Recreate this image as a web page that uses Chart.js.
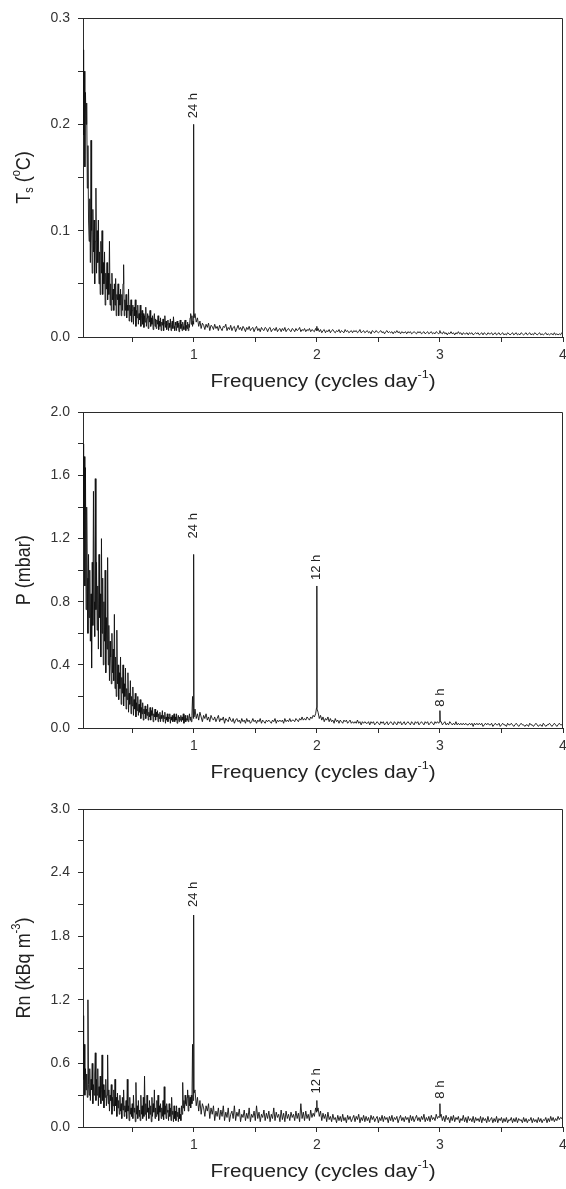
<!DOCTYPE html>
<html>
<head>
<meta charset="utf-8">
<script src="https://cdn.jsdelivr.net/npm/chart.js"></script>
<style>
  body { margin: 0; background: #fff; }
  canvas { display: block; }
</style>
</head>
<body>
<canvas id="c0" width="566" height="396"></canvas>
<canvas id="c1" width="566" height="396"></canvas>
<canvas id="c2" width="566" height="397"></canvas>
<script>
// frequency (cycles/day), shared by the three spectra
var freq = [
  0.100,0.105,0.110,0.115,0.120,0.125,0.130,0.135,0.140,0.145,
  0.150,0.155,0.160,0.165,0.170,0.175,0.180,0.185,0.190,0.195,
  0.200,0.205,0.210,0.215,0.220,0.225,0.230,0.235,0.240,0.245,
  0.250,0.255,0.260,0.265,0.270,0.275,0.280,0.285,0.290,0.295,
  0.300,0.305,0.310,0.315,0.320,0.325,0.330,0.335,0.340,0.345,
  0.350,0.355,0.360,0.365,0.370,0.375,0.380,0.385,0.390,0.395,
  0.400,0.405,0.410,0.415,0.420,0.425,0.430,0.435,0.440,0.445,
  0.450,0.455,0.460,0.465,0.470,0.475,0.480,0.485,0.490,0.495,
  0.500,0.505,0.510,0.515,0.520,0.525,0.530,0.535,0.540,0.545,
  0.550,0.555,0.560,0.565,0.570,0.575,0.580,0.585,0.590,0.595,
  0.600,0.605,0.610,0.615,0.620,0.625,0.630,0.635,0.640,0.645,
  0.650,0.655,0.660,0.665,0.670,0.675,0.680,0.685,0.690,0.695,
  0.700,0.705,0.710,0.715,0.720,0.725,0.730,0.735,0.740,0.745,
  0.750,0.755,0.760,0.765,0.770,0.775,0.780,0.785,0.790,0.795,
  0.800,0.805,0.810,0.815,0.820,0.825,0.830,0.835,0.840,0.845,
  0.850,0.855,0.860,0.865,0.870,0.875,0.880,0.885,0.890,0.895,
  0.900,0.905,0.910,0.915,0.920,0.925,0.930,0.935,0.940,0.945,
  0.950,0.955,0.960,0.965,0.970,0.975,0.980,0.985,0.990,0.995,
  0.998,1.000,1.002,
  1.01,1.02,1.03,1.04,1.05,1.06,1.07,1.08,1.09,1.10,
  1.11,1.12,1.13,1.14,1.15,1.16,1.17,1.18,1.19,1.20,
  1.21,1.22,1.23,1.24,1.25,1.26,1.27,1.28,1.29,1.30,
  1.31,1.32,1.33,1.34,1.35,1.36,1.37,1.38,1.39,1.40,
  1.41,1.42,1.43,1.44,1.45,1.46,1.47,1.48,1.49,1.50,
  1.51,1.52,1.53,1.54,1.55,1.56,1.57,1.58,1.59,1.60,
  1.61,1.62,1.63,1.64,1.65,1.66,1.67,1.68,1.69,1.70,
  1.71,1.72,1.73,1.74,1.75,1.76,1.77,1.78,1.79,1.80,
  1.81,1.82,1.83,1.84,1.85,1.86,1.87,1.88,1.89,1.90,
  1.91,1.92,1.93,1.94,1.95,1.96,1.97,1.98,1.99,
  1.998,2.000,2.002,
  2.01,2.02,2.03,2.04,2.05,2.06,2.07,2.08,2.09,2.10,
  2.11,2.12,2.13,2.14,2.15,2.16,2.17,2.18,2.19,2.20,
  2.21,2.22,2.23,2.24,2.25,2.26,2.27,2.28,2.29,2.30,
  2.31,2.32,2.33,2.34,2.35,2.36,2.37,2.38,2.39,2.40,
  2.41,2.42,2.43,2.44,2.45,2.46,2.47,2.48,2.49,2.50,
  2.51,2.52,2.53,2.54,2.55,2.56,2.57,2.58,2.59,2.60,
  2.61,2.62,2.63,2.64,2.65,2.66,2.67,2.68,2.69,2.70,
  2.71,2.72,2.73,2.74,2.75,2.76,2.77,2.78,2.79,2.80,
  2.81,2.82,2.83,2.84,2.85,2.86,2.87,2.88,2.89,2.90,
  2.91,2.92,2.93,2.94,2.95,2.96,2.97,2.98,2.99,
  2.998,3.000,3.002,
  3.01,3.02,3.03,3.04,3.05,3.06,3.07,3.08,3.09,3.10,
  3.11,3.12,3.13,3.14,3.15,3.16,3.17,3.18,3.19,3.20,
  3.21,3.22,3.23,3.24,3.25,3.26,3.27,3.28,3.29,3.30,
  3.31,3.32,3.33,3.34,3.35,3.36,3.37,3.38,3.39,3.40,
  3.41,3.42,3.43,3.44,3.45,3.46,3.47,3.48,3.49,3.50,
  3.51,3.52,3.53,3.54,3.55,3.56,3.57,3.58,3.59,3.60,
  3.61,3.62,3.63,3.64,3.65,3.66,3.67,3.68,3.69,3.70,
  3.71,3.72,3.73,3.74,3.75,3.76,3.77,3.78,3.79,3.80,
  3.81,3.82,3.83,3.84,3.85,3.86,3.87,3.88,3.89,3.90,
  3.91,3.92,3.93,3.94,3.95,3.96,3.97,3.98,3.99,4.00
];

// soil temperature amplitude (degC)
var tsValues = [
  0.27,0.19,0.25,0.16,0.23,0.20,0.22,0.14,0.18,0.11,
  0.09,0.13,0.07,0.185,0.10,0.06,0.12,0.08,0.11,0.05,
  0.09,0.14,0.06,0.10,0.07,0.11,0.05,0.08,0.04,0.09,
  0.06,0.10,0.04,0.07,0.05,0.08,0.03,0.06,0.045,0.07,
  0.035,0.06,0.04,0.09,0.03,0.05,0.025,0.06,0.035,0.045,
  0.025,0.05,0.03,0.055,0.02,0.04,0.035,0.05,0.02,0.04,
  0.03,0.045,0.02,0.04,0.025,0.05,0.068,0.02,0.035,0.025,
  0.04,0.018,0.03,0.025,0.045,0.015,0.03,0.02,0.035,0.014,
  0.025,0.03,0.012,0.028,0.02,0.035,0.01,0.025,0.018,0.03,
  0.012,0.022,0.016,0.03,0.01,0.02,0.025,0.012,0.022,0.009,
  0.02,0.014,0.028,0.01,0.018,0.022,0.008,0.02,0.014,0.025,
  0.01,0.018,0.012,0.02,0.007,0.016,0.022,0.01,0.017,0.008,
  0.016,0.012,0.02,0.007,0.015,0.01,0.018,0.006,0.014,0.011,
  0.017,0.006,0.013,0.02,0.009,0.015,0.007,0.012,0.016,0.006,
  0.013,0.009,0.017,0.006,0.012,0.015,0.008,0.019,0.01,0.006,
  0.014,0.011,0.006,0.015,0.009,0.013,0.005,0.012,0.016,0.008,
  0.012,0.006,0.014,0.01,0.007,0.013,0.016,0.006,0.011,0.008,
  0.014,0.006,0.012,0.009,0.018,0.022,0.012,0.02,0.01,0.015,
  0.012,0.20,0.018,
  0.022,0.014,0.018,0.01,0.015,0.008,0.013,0.011,0.007,0.012,
  0.009,0.013,0.006,0.011,0.01,0.007,0.012,0.008,0.01,0.006,
  0.011,0.008,0.006,0.01,0.009,0.012,0.006,0.009,0.007,0.011,
  0.006,0.009,0.01,0.005,0.008,0.011,0.007,0.009,0.006,0.01,
  0.008,0.005,0.009,0.007,0.01,0.006,0.008,0.009,0.005,0.008,
  0.01,0.006,0.008,0.005,0.009,0.007,0.006,0.009,0.008,0.005,
  0.008,0.009,0.005,0.007,0.008,0.006,0.009,0.005,0.007,0.008,
  0.005,0.008,0.006,0.009,0.005,0.007,0.008,0.006,0.005,0.008,
  0.007,0.005,0.008,0.006,0.007,0.009,0.005,0.007,0.006,0.008,
  0.005,0.007,0.006,0.008,0.005,0.007,0.006,0.005,0.008,
  0.006,0.01,0.006,
  0.008,0.005,0.007,0.004,0.006,0.007,0.004,0.006,0.005,0.007,
  0.004,0.006,0.007,0.005,0.004,0.006,0.005,0.007,0.004,0.006,
  0.005,0.004,0.007,0.005,0.006,0.004,0.005,0.006,0.004,0.006,
  0.005,0.006,0.004,0.005,0.007,0.004,0.005,0.006,0.004,0.005,
  0.006,0.004,0.005,0.003,0.006,0.005,0.004,0.006,0.005,0.004,
  0.005,0.006,0.004,0.005,0.003,0.005,0.006,0.004,0.005,0.004,
  0.005,0.003,0.005,0.004,0.006,0.004,0.005,0.003,0.005,0.004,
  0.004,0.005,0.003,0.005,0.004,0.005,0.003,0.004,0.005,0.004,
  0.003,0.005,0.004,0.005,0.003,0.004,0.005,0.003,0.004,0.005,
  0.003,0.004,0.005,0.003,0.004,0.003,0.005,0.004,0.003,
  0.004,0.006,0.004,
  0.004,0.003,0.005,0.003,0.004,0.002,0.004,0.003,0.005,0.003,
  0.004,0.002,0.004,0.003,0.005,0.003,0.004,0.002,0.004,0.003,
  0.003,0.004,0.002,0.004,0.003,0.004,0.002,0.003,0.004,0.003,
  0.004,0.002,0.003,0.004,0.002,0.004,0.003,0.002,0.004,0.003,
  0.003,0.004,0.002,0.003,0.004,0.002,0.003,0.004,0.002,0.003,
  0.004,0.002,0.003,0.002,0.004,0.003,0.002,0.003,0.004,0.002,
  0.003,0.004,0.002,0.003,0.002,0.004,0.003,0.002,0.003,0.004,
  0.002,0.003,0.004,0.002,0.003,0.002,0.004,0.003,0.002,0.003,
  0.004,0.002,0.003,0.002,0.003,0.004,0.002,0.003,0.002,0.003,
  0.003,0.002,0.004,0.002,0.003,0.002,0.003,0.002,0.004,0.003
];

// atmospheric pressure amplitude (mbar)
var pValues = [
  1.80,1.20,1.72,0.90,1.65,0.75,1.40,0.95,0.60,1.10,
  0.70,1.00,0.55,0.85,0.38,1.05,0.65,1.50,0.80,0.58,
  1.58,0.75,1.05,0.62,0.90,0.50,1.10,0.70,0.85,0.45,
  1.20,0.60,0.95,0.40,0.80,0.55,1.00,0.35,0.70,0.50,
  1.08,0.40,0.65,0.30,0.55,0.45,0.28,0.60,0.35,0.50,
  0.30,0.72,0.25,0.45,0.20,0.62,0.28,0.40,0.18,0.35,
  0.25,0.45,0.15,0.32,0.22,0.40,0.14,0.28,0.20,0.38,
  0.12,0.25,0.18,0.35,0.10,0.22,0.15,0.30,0.09,0.20,
  0.14,0.26,0.08,0.18,0.12,0.22,0.07,0.16,0.11,0.20,
  0.08,0.15,0.10,0.18,0.06,0.13,0.09,0.16,0.05,0.12,
  0.09,0.14,0.06,0.12,0.08,0.15,0.05,0.10,0.07,0.13,
  0.05,0.11,0.08,0.13,0.04,0.09,0.07,0.12,0.05,0.10,
  0.07,0.11,0.04,0.09,0.06,0.10,0.04,0.08,0.06,0.11,
  0.04,0.08,0.06,0.10,0.03,0.07,0.05,0.09,0.04,0.07,
  0.06,0.09,0.03,0.07,0.05,0.08,0.04,0.06,0.09,0.04,
  0.07,0.05,0.09,0.03,0.06,0.08,0.04,0.07,0.05,0.08,
  0.04,0.07,0.05,0.09,0.03,0.06,0.08,0.04,0.06,0.05,
  0.08,0.04,0.06,0.09,0.05,0.07,0.04,0.08,0.20,0.07,
  0.06,1.10,0.07,
  0.12,0.06,0.09,0.05,0.10,0.07,0.04,0.08,0.06,0.09,
  0.05,0.07,0.04,0.08,0.06,0.05,0.07,0.04,0.06,0.08,
  0.04,0.06,0.05,0.07,0.03,0.06,0.05,0.04,0.07,0.05,
  0.04,0.06,0.03,0.05,0.06,0.04,0.05,0.03,0.06,0.04,
  0.05,0.03,0.06,0.04,0.05,0.03,0.04,0.06,0.04,0.05,
  0.03,0.05,0.04,0.06,0.03,0.05,0.04,0.03,0.05,0.04,
  0.05,0.04,0.03,0.05,0.04,0.06,0.03,0.05,0.04,0.05,
  0.04,0.05,0.03,0.06,0.04,0.05,0.04,0.06,0.04,0.05,
  0.05,0.04,0.06,0.05,0.04,0.06,0.05,0.07,0.05,0.06,
  0.05,0.07,0.06,0.05,0.07,0.06,0.08,0.07,0.09,
  0.13,0.90,0.12,
  0.10,0.06,0.08,0.05,0.07,0.04,0.06,0.05,0.07,0.04,
  0.06,0.04,0.05,0.03,0.06,0.04,0.05,0.03,0.05,0.04,
  0.03,0.05,0.04,0.05,0.03,0.04,0.05,0.03,0.04,0.03,
  0.04,0.03,0.05,0.03,0.04,0.02,0.04,0.03,0.04,0.03,
  0.03,0.04,0.02,0.04,0.03,0.04,0.02,0.03,0.04,0.03,
  0.02,0.04,0.03,0.04,0.02,0.03,0.04,0.02,0.03,0.04,
  0.03,0.02,0.04,0.03,0.02,0.04,0.03,0.04,0.02,0.03,
  0.04,0.02,0.03,0.04,0.03,0.02,0.04,0.03,0.02,0.04,
  0.03,0.04,0.02,0.03,0.04,0.03,0.02,0.04,0.03,0.04,
  0.02,0.03,0.04,0.03,0.02,0.04,0.03,0.04,0.03,
  0.04,0.11,0.04,
  0.04,0.02,0.03,0.04,0.02,0.03,0.02,0.04,0.03,0.02,
  0.03,0.02,0.04,0.02,0.03,0.02,0.03,0.02,0.03,0.02,
  0.03,0.02,0.02,0.03,0.02,0.03,0.01,0.03,0.02,0.03,
  0.02,0.03,0.02,0.03,0.01,0.02,0.03,0.02,0.03,0.02,
  0.02,0.03,0.01,0.02,0.03,0.02,0.02,0.03,0.01,0.02,
  0.03,0.02,0.02,0.01,0.03,0.02,0.02,0.03,0.02,0.01,
  0.02,0.03,0.02,0.01,0.02,0.03,0.02,0.02,0.01,0.02,
  0.02,0.01,0.03,0.02,0.02,0.01,0.02,0.03,0.02,0.01,
  0.02,0.02,0.01,0.03,0.02,0.01,0.02,0.02,0.03,0.02,
  0.01,0.02,0.03,0.02,0.01,0.02,0.03,0.02,0.02,0.03
];

// radon activity amplitude (kBq m-3)
var rnValues = [
  1.05,0.45,0.78,0.30,0.55,0.35,0.50,0.28,1.20,0.40,
  0.30,0.55,0.25,0.45,0.35,0.60,0.22,0.40,0.30,0.50,
  0.70,0.25,0.45,0.30,0.55,0.20,0.38,0.28,0.48,0.22,
  0.35,0.68,0.25,0.40,0.18,0.35,0.28,0.45,0.20,0.30,
  0.68,0.22,0.35,0.15,0.30,0.25,0.40,0.12,0.28,0.20,
  0.35,0.15,0.45,0.20,0.28,0.10,0.32,0.18,0.25,0.12,
  0.30,0.15,0.22,0.08,0.28,0.16,0.35,0.10,0.20,0.14,
  0.25,0.08,0.45,0.15,0.20,0.06,0.28,0.12,0.18,0.10,
  0.22,0.08,0.30,0.14,0.18,0.05,0.42,0.12,0.20,0.08,
  0.25,0.10,0.16,0.06,0.30,0.12,0.20,0.08,0.28,0.10,
  0.48,0.12,0.22,0.06,0.30,0.14,0.18,0.08,0.25,0.12,
  0.20,0.05,0.28,0.10,0.22,0.14,0.35,0.08,0.18,0.10,
  0.25,0.12,0.30,0.06,0.20,0.14,0.22,0.08,0.18,0.10,
  0.25,0.07,0.38,0.12,0.20,0.08,0.22,0.14,0.16,0.06,
  0.22,0.10,0.18,0.06,0.28,0.12,0.15,0.05,0.20,0.08,
  0.15,0.06,0.20,0.10,0.14,0.05,0.18,0.08,0.12,0.06,
  0.20,0.12,0.42,0.18,0.25,0.15,0.30,0.22,0.20,0.28,
  0.35,0.15,0.30,0.20,0.28,0.18,0.30,0.22,0.78,0.25,
  0.30,2.00,0.32,
  0.35,0.20,0.28,0.15,0.25,0.12,0.22,0.18,0.10,0.20,
  0.15,0.22,0.08,0.18,0.12,0.20,0.06,0.15,0.10,0.18,
  0.07,0.16,0.10,0.20,0.06,0.14,0.09,0.18,0.05,0.12,
  0.15,0.08,0.20,0.06,0.14,0.10,0.17,0.05,0.12,0.09,
  0.16,0.06,0.13,0.08,0.18,0.05,0.12,0.09,0.15,0.06,
  0.20,0.08,0.14,0.05,0.12,0.09,0.16,0.06,0.13,0.08,
  0.15,0.05,0.12,0.08,0.18,0.06,0.14,0.09,0.12,0.05,
  0.16,0.07,0.13,0.05,0.15,0.08,0.12,0.06,0.14,0.09,
  0.12,0.06,0.15,0.08,0.13,0.05,0.22,0.08,0.14,0.06,
  0.15,0.08,0.12,0.06,0.16,0.09,0.13,0.10,0.18,
  0.14,0.25,0.15,
  0.18,0.10,0.15,0.06,0.13,0.08,0.12,0.05,0.14,0.07,
  0.10,0.05,0.12,0.07,0.09,0.04,0.11,0.06,0.10,0.05,
  0.12,0.06,0.09,0.04,0.11,0.07,0.10,0.05,0.08,0.11,
  0.05,0.10,0.07,0.12,0.04,0.09,0.06,0.11,0.05,0.10,
  0.06,0.09,0.04,0.11,0.07,0.10,0.05,0.08,0.10,0.04,
  0.09,0.06,0.11,0.05,0.10,0.07,0.09,0.04,0.10,0.06,
  0.11,0.05,0.09,0.07,0.10,0.04,0.08,0.11,0.06,0.09,
  0.05,0.10,0.07,0.09,0.04,0.11,0.06,0.10,0.05,0.08,
  0.11,0.06,0.09,0.05,0.10,0.07,0.12,0.05,0.09,0.06,
  0.10,0.05,0.11,0.07,0.09,0.06,0.12,0.08,0.10,
  0.09,0.22,0.10,
  0.12,0.06,0.10,0.05,0.11,0.07,0.09,0.04,0.10,0.06,
  0.11,0.05,0.09,0.07,0.10,0.04,0.08,0.06,0.11,0.05,
  0.09,0.04,0.10,0.06,0.08,0.05,0.10,0.04,0.09,0.06,
  0.08,0.05,0.10,0.04,0.09,0.06,0.08,0.04,0.10,0.05,
  0.07,0.09,0.04,0.08,0.05,0.10,0.04,0.08,0.06,0.09,
  0.04,0.08,0.05,0.09,0.04,0.07,0.06,0.09,0.04,0.08,
  0.05,0.09,0.04,0.08,0.06,0.07,0.04,0.09,0.05,0.08,
  0.04,0.07,0.06,0.09,0.04,0.08,0.05,0.07,0.04,0.09,
  0.05,0.08,0.04,0.07,0.06,0.09,0.04,0.08,0.05,0.10,
  0.06,0.09,0.05,0.08,0.06,0.10,0.07,0.09,0.08,0.11
];

var panelValues = [tsValues, pValues, rnValues];
var yMax = [0.3, 2.0, 3.0];
var yMinorStep = [0.05, 0.2, 0.3];
var yLabelStep = [0.1, 0.4, 0.6];
var peakFreqs = [[1], [1, 2, 3], [1, 2, 3]];
var peakTexts = [['24 h'], ['24 h', '12 h', '8 h'], ['24 h', '12 h', '8 h']];
var peakGaps = [[6], [16, 6, 4], [8, 7, 5]];

var yTitles = [
  [{t: 'T'}, {t: 's', sub: 1}, {t: ' ('}, {t: 'o', sup: 1}, {t: 'C)'}],
  [{t: 'P (mbar)'}],
  [{t: 'Rn (kBq m'}, {t: '-3', sup: 1}, {t: ')'}]
];
var xTitle = [{t: 'Frequency (cycles day'}, {t: '-1', sup: 1}, {t: ')'}];

var padTop = [18, 16, 17];
var xAxisHeight = [59, 64, 62];
var FONT = "'Liberation Sans', Arial, sans-serif";
var INK = '#2b2b2b';

function drawRich(ctx, segs, size) {
  // draws centred on the origin
  var total = 0;
  segs.forEach(function(s) {
    s.size = (s.sub || s.sup) ? Math.round(size * 0.62) : size;
    ctx.font = s.size + 'px ' + FONT;
    s.w = ctx.measureText(s.t).width;
    total += s.w;
  });
  var x = -total / 2;
  ctx.textAlign = 'left';
  ctx.textBaseline = 'middle';
  segs.forEach(function(s) {
    ctx.font = s.size + 'px ' + FONT;
    var dy = s.sub ? size * 0.28 : (s.sup ? -size * 0.38 : 0);
    ctx.fillText(s.t, x, dy);
    x += s.w;
  });
}

var decorations = {
  id: 'decorations',
  afterDraw: function(chart) {
    var ctx = chart.ctx, a = chart.chartArea;
    var k = chart.options.plugins.decorations.panel;
    var xs = chart.scales.x, ys = chart.scales.y;
    ctx.save();
    ctx.strokeStyle = INK;
    ctx.lineWidth = 1;
    ctx.beginPath();
    ctx.moveTo(Math.round(a.left) + 0.5, Math.round(a.top) + 0.5);
    ctx.lineTo(Math.round(a.right) - 0.5, Math.round(a.top) + 0.5);
    ctx.lineTo(Math.round(a.right) - 0.5, Math.round(a.bottom) + 0.5);
    ctx.stroke();

    ctx.fillStyle = '#222';
    // peak labels
    peakFreqs[k].forEach(function(f, i) {
      var v = panelValues[k][freq.indexOf(f)];
      var px = xs.getPixelForValue(f);
      var py = ys.getPixelForValue(v) - peakGaps[k][i];
      ctx.save();
      ctx.translate(px, py);
      ctx.rotate(-Math.PI / 2);
      ctx.font = '13px ' + FONT;
      ctx.textAlign = 'left';
      ctx.textBaseline = 'middle';
      ctx.fillText(peakTexts[k][i], 0, 0);
      ctx.restore();
    });

    // y title
    ctx.save();
    ctx.translate(24, (a.top + a.bottom) / 2);
    ctx.rotate(-Math.PI / 2);
    ctx.scale(1, 1.12);
    drawRich(ctx, yTitles[k], 18);
    ctx.restore();

    // x title
    ctx.save();
    ctx.translate((a.left + a.right) / 2, a.bottom + 45);
    ctx.scale(1.15, 1);
    drawRich(ctx, xTitle, 18);
    ctx.restore();
    ctx.restore();
  }
};

function makePanel(k) {
  var pts = freq.map(function(f, i) { return {x: f, y: panelValues[k][i]}; });
  new Chart(document.getElementById('c' + k), {
    type: 'line',
    data: {
      datasets: [{
        data: pts,
        borderColor: '#111',
        borderWidth: 0.9,
        pointRadius: 0,
        tension: 0,
        fill: false
      }]
    },
    options: {
      responsive: false,
      animation: false,
      parsing: false,
      layout: {padding: {top: padTop[k], right: 3, left: 0, bottom: 0}},
      plugins: {
        legend: {display: false},
        tooltip: {enabled: false},
        decorations: {panel: k}
      },
      scales: {
        x: {
          type: 'linear',
          min: 0.1,
          max: 4,
          afterFit: function(s) {
            s.height = xAxisHeight[k];
            s.paddingLeft = 0;
            s.paddingRight = 0;
          },
          grid: {drawOnChartArea: false, tickLength: 5, color: INK},
          border: {color: INK, width: 1},
          ticks: {
            stepSize: 0.5,
            includeBounds: false,
            autoSkip: false,
            maxRotation: 0,
            padding: 5,
            color: '#333',
            font: {family: FONT, size: 14},
            callback: function(v) { return Number.isInteger(v) ? String(v) : ''; }
          }
        },
        y: {
          min: 0,
          max: yMax[k],
          afterFit: function(s) { s.width = 83; },
          grid: {drawOnChartArea: false, tickLength: 5, color: INK},
          border: {color: INK, width: 1},
          ticks: {
            stepSize: yMinorStep[k],
            autoSkip: false,
            padding: 8,
            color: '#333',
            font: {family: FONT, size: 14},
            callback: function(v) {
              var r = v / yLabelStep[k];
              return Math.abs(r - Math.round(r)) < 1e-6 ? v.toFixed(1) : '';
            }
          }
        }
      }
    },
    plugins: [decorations]
  });
}

makePanel(0);
makePanel(1);
makePanel(2);
</script>
</body>
</html>
